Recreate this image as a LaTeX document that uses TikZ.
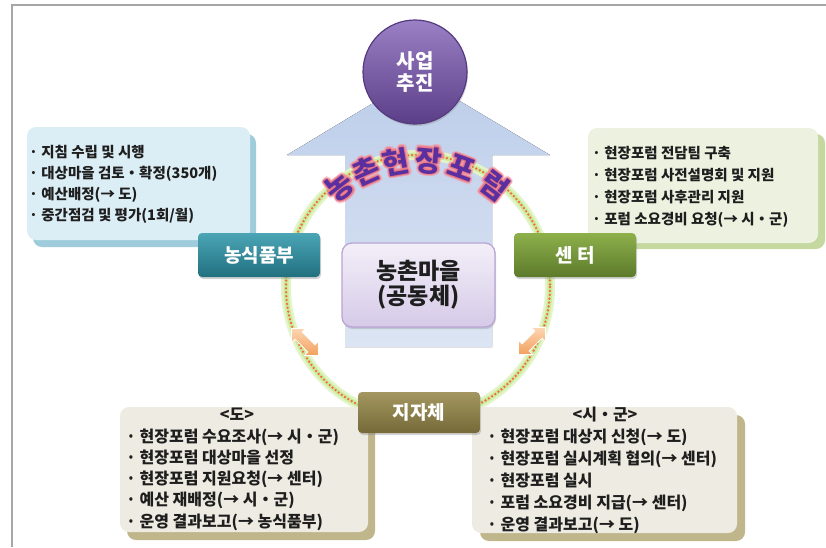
\documentclass[tikz,border=0pt]{standalone}
\usepackage{fontspec}
\setmainfont{Noto Sans CJK KR}
\usetikzlibrary{shadows,calc}
\definecolor{frame}{HTML}{A6A6A6}
\definecolor{teal1}{HTML}{4BA5B5}
\definecolor{teal2}{HTML}{21707F}
\definecolor{grn1}{HTML}{8DB04B}
\definecolor{grn2}{HTML}{5D7A2B}
\definecolor{olv1}{HTML}{A39660}
\definecolor{olv2}{HTML}{756A38}
\definecolor{lbbox}{HTML}{DCEEF5}
\definecolor{lbshadow}{HTML}{9ECCDB}
\definecolor{gnbox}{HTML}{EDF2E0}
\definecolor{gnshadow}{HTML}{C5D89F}
\definecolor{bgbox}{HTML}{EEECE2}
\definecolor{bgshadow}{HTML}{C0B68C}
\definecolor{cbtop}{HTML}{F3EFF8}
\definecolor{cbbot}{HTML}{D6CAE8}
\definecolor{cbline}{HTML}{B9A5D4}
\definecolor{cirtop}{HTML}{9A80C4}
\definecolor{cirbot}{HTML}{5B3E88}
\definecolor{cirline}{HTML}{553A80}
\definecolor{arctext}{HTML}{5A2FA0}
\definecolor{arcglow}{HTML}{F49AA6}
\definecolor{arcglow2}{HTML}{E87584}
\definecolor{arrtop}{HTML}{BCCDEA}
\definecolor{arrbot}{HTML}{DCE5F3}
\definecolor{ringglow}{HTML}{E3F5C8}
\definecolor{ringmid}{HTML}{CDEBA0}
\definecolor{ringdot}{HTML}{F26B3A}
\definecolor{oatop}{HTML}{FCD6B2}
\definecolor{oabot}{HTML}{F3A05E}
\definecolor{bodytext}{HTML}{1E1E1E}
\begin{document}
\begin{tikzpicture}[x=1pt,y=-1pt,
  infobox/.style={rectangle, rounded corners=9pt, inner sep=0pt},
  hdr/.style={rectangle, rounded corners=4pt, text=white, inner sep=0pt,
    font=\bfseries\fontsize{19}{19}\selectfont,
    minimum width=122pt, minimum height=44pt,
    drop shadow={shadow xshift=1pt, shadow yshift=-2pt, opacity=.35}},
  body/.style={align=left, anchor=west, inner sep=0pt, text=bodytext,
    font=\bfseries\fontsize{14.5}{21}\selectfont},
  bodybig/.style={body, font=\bfseries\fontsize{16}{21.3}\selectfont},
  oarrow/.style={draw=white, line width=0.8pt, top color=oatop, bottom color=oabot},
  arcch/.style={font=\bfseries\fontsize{29}{29}\selectfont, inner sep=0pt}
]
\useasboundingbox (0,0) rectangle (826,547);
% frame
\draw[frame, line width=2pt] (12,547) -- (12,5) -- (826,5);

% big upward arrow
\fill[top color=arrtop, bottom color=arrbot]
  (345,347) -- (345,155) -- (287,155) -- (418,76) -- (550,155)
  -- (492,155) -- (492,347) -- cycle;

% ring
\coordinate (ringc) at (418,287);
\draw[ringglow, line width=10pt] (ringc) circle[radius=132];
\draw[ringmid, line width=5pt] (ringc) circle[radius=132];
\draw[ringdot, line width=2.6pt, line cap=round, dash pattern=on 0pt off 3.9pt]
  (ringc) circle[radius=132];

% orange double arrows
\begin{scope}[shift={(305,342)}, rotate=-45]
  \path[oarrow] (-19,0) -- (-9,-10) -- (-9,-5) -- (9,-5) -- (9,-10) -- (19,0)
    -- (9,10) -- (9,5) -- (-9,5) -- (-9,10) -- cycle;
\end{scope}
\begin{scope}[shift={(532,341)}, rotate=45]
  \path[oarrow] (-19,0) -- (-9,-10) -- (-9,-5) -- (9,-5) -- (9,-10) -- (19,0)
    -- (9,10) -- (9,5) -- (-9,5) -- (-9,10) -- cycle;
\end{scope}

% left info box
\node[infobox, fill=lbbox, minimum width=223pt, minimum height=113pt,
  drop shadow={shadow xshift=6pt, shadow yshift=-7pt, fill=lbshadow, opacity=1}]
  (boxL) at (138.5,183.5) {};
\node[body] (txtL) at (29,184.5) {· 지침 수립 및 시행\\· 대상마을 검토・확정(350개)\\· 예산배정(→ 도)\\· 중간점검 및 평가(1회/월)};

% right info box
\node[infobox, fill=gnbox, minimum width=230pt, minimum height=115pt,
  drop shadow={shadow xshift=7pt, shadow yshift=-6pt, fill=gnshadow, opacity=1}]
  (boxR) at (703,185.5) {};
\node[body, font=\bfseries\fontsize{14.5}{22}\selectfont] (txtR) at (592,187) {· 현장포럼 전담팀 구축\\· 현장포럼 사전설명회 및 지원\\· 현장포럼 사후관리 지원\\· 포럼 소요경비 요청(→ 시・군)};

% bottom left box
\node[infobox, fill=bgbox, minimum width=248pt, minimum height=125pt,
  drop shadow={shadow xshift=7pt, shadow yshift=-8pt, fill=bgshadow, opacity=1}]
  (boxBL) at (244,469.5) {};
\node[inner sep=0pt, text=bodytext, font=\bfseries\fontsize{16}{16}\selectfont] (hdBL) at (237,414) {<도>};
\node[bodybig] (txtBL) at (126,479.5) {· 현장포럼 수요조사(→ 시・군)\\· 현장포럼 대상마을 선정\\· 현장포럼 지원요청(→ 센터)\\· 예산 재배정(→ 시・군)\\· 운영 결과보고(→ 농식품부)};

% bottom right box
\node[infobox, fill=bgbox, minimum width=265pt, minimum height=126pt,
  drop shadow={shadow xshift=8pt, shadow yshift=-8pt, fill=bgshadow, opacity=1}]
  (boxBR) at (604.5,470) {};
\node[inner sep=0pt, text=bodytext, font=\bfseries\fontsize{16}{16}\selectfont] (hdBR) at (605,415) {<시・군>};
\node[bodybig, font=\bfseries\fontsize{16}{22}\selectfont] (txtBR) at (487,481) {· 현장포럼 대상지 신청(→ 도)\\· 현장포럼 실시계획 협의(→ 센터)\\· 현장포럼 실시\\· 포럼 소요경비 지급(→ 센터)\\· 운영 결과보고(→ 도)};

% headers
\node[hdr, top color=teal1, bottom color=teal2] (mafra) at (259,255) {농식품부};
\node[hdr, top color=grn1, bottom color=grn2] (center) at (575,255) {센 터};
\node[hdr, top color=olv1, bottom color=olv2, minimum height=41pt] (local) at (419,412.5) {지자체};

% village box
\node[rectangle, rounded corners=10pt, draw=cbline, line width=1.3pt,
  top color=cbtop, bottom color=cbbot, minimum width=153pt, minimum height=84pt,
  align=center, text=bodytext, font=\bfseries\fontsize{23}{25}\selectfont,
  drop shadow={shadow xshift=1pt, shadow yshift=-2pt, opacity=.3}]
  (village) at (418.5,285) {농촌마을\\(공동체)};

% top circle
\node[circle, draw=cirline, line width=1.2pt, top color=cirtop, bottom color=cirbot,
  minimum size=104pt, inner sep=0pt, align=center, text=white,
  font=\bfseries\fontsize{20}{22}\selectfont,
  drop shadow={shadow xshift=1pt, shadow yshift=-2pt, opacity=.3}]
  (push) at (415,72) {사업\\추진};

% arc title with glow
\foreach \ch/\x/\y/\r [count=\i] in {농/339.8/186.9/38, 촌/366.3/171.0/24, 현/396.0/161.9/10, 장/429.1/160.5/-5, 포/461.4/167.7/-20, 럼/494.4/185.6/-37}{
  \foreach \a in {0,30,...,330}{
    \node[arcch, text=arcglow, opacity=.45, rotate=\r] (g\i-\a) at ($(\x,\y)+(\a:2.6pt)$) {\ch};
  }
  \foreach \a in {0,45,...,315}{
    \node[arcch, text=arcglow2, opacity=.6, rotate=\r] (h\i-\a) at ($(\x,\y)+(\a:1.2pt)$) {\ch};
  }
  \node[arcch, text=arctext, rotate=\r] (t\i) at (\x,\y) {\ch};
}
\end{tikzpicture}
\end{document}
